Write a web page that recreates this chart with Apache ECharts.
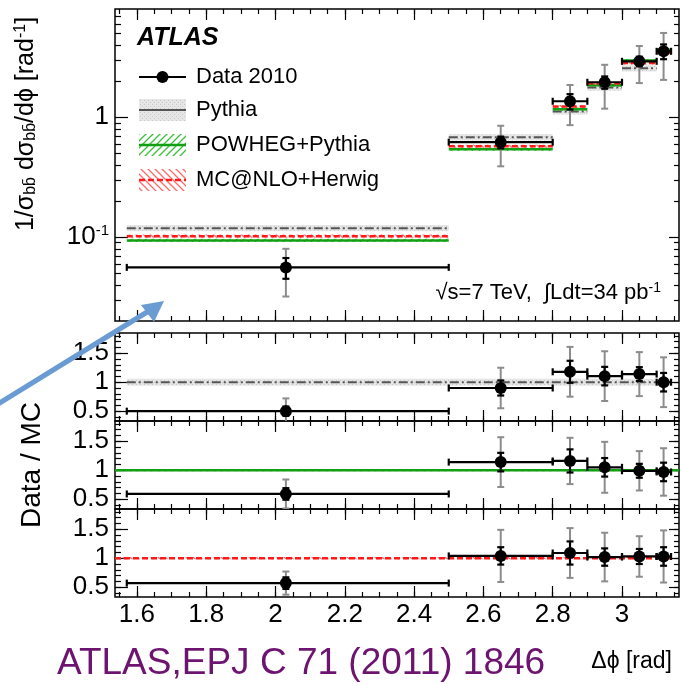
<!DOCTYPE html>
<html>
<head>
<meta charset="utf-8">
<script src="https://cdn.jsdelivr.net/npm/echarts@6/dist/echarts.min.js"></script>
<style>
  html, body { margin: 0; padding: 0; background: #fff; }
  #chart { width: 681px; height: 684px; }
</style>
</head>
<body>
<div id="chart"></div>
<script>
// ---- Δφ binning ----
const binLo     = [1.5708, 2.5, 2.8, 2.9, 3.0, 3.1];
const binHi     = [2.5, 2.8, 2.9, 3.0, 3.1, 3.1416];
const binCenter = [2.03, 2.65, 2.85, 2.95, 3.05, 3.12];

// ---- normalised cross section, data 2010 ----
const dataVal  = [0.056, 0.62, 1.36, 1.96, 2.93, 3.55];
const dataStat = [0.011, 0.07, 0.20, 0.23, 0.27, 0.50];
const dataTot  = [0.024, 0.23, 0.50, 0.78, 1.00, 1.50];

// ---- predictions ----
const pythiaVal = [0.119, 0.68, 1.12, 1.77, 2.56, 3.50];
const powhegVal = [0.094, 0.541, 1.166, 1.85, 2.98, 3.66];
const mcnloVal  = [0.102, 0.573, 1.23, 1.92, 2.84, 3.45];
const pythiaUnc = 0.06, powhegUnc = 0.03, mcnloUnc = 0.03;

// ---- Data / MC ratios ----
const ratioPythia     = [0.50, 0.90, 1.18, 1.105, 1.14, 1.00];
const ratioPythiaStat = [0.08, 0.13, 0.19, 0.16, 0.12, 0.16];
const ratioPythiaTot  = [0.22, 0.35, 0.43, 0.43, 0.38, 0.43];
const ratioPowheg     = [0.59, 1.14, 1.16, 1.05, 0.99, 0.97];
const ratioPowhegStat = [0.10, 0.16, 0.20, 0.16, 0.12, 0.16];
const ratioPowhegTot  = [0.25, 0.43, 0.40, 0.44, 0.34, 0.41];
const ratioMcnlo      = [0.57, 1.04, 1.09, 1.02, 1.03, 1.03];
const ratioMcnloStat  = [0.10, 0.15, 0.20, 0.15, 0.13, 0.16];
const ratioMcnloTot   = [0.20, 0.45, 0.43, 0.42, 0.35, 0.45];

// ---- axes ----
const X_MIN = 1.5368, X_MAX = 3.1645;
const xTickLabels = [1.6, 1.8, 2, 2.2, 2.4, 2.6, 2.8, 3];
const Y_LOG_MIN = 0.02, Y_LOG_MAX = 8;
const yLogLabels = [0.1, 1];
const R_MIN = 0.33, R_MAX = 1.85;
const ratioTickLabels = [0.5, 1, 1.5];

const xMinor = [];
for (let i = 31; i <= 63; i++) { const v = +(i * 0.05).toFixed(2); if (v > X_MIN && v < X_MAX) xMinor.push(v); }
const yLogMinor = [];
[0.01, 0.1, 1].forEach(d => { for (let k = 2; k <= 9; k++) { const v = +(k * d).toPrecision(2); if (v > Y_LOG_MIN && v < Y_LOG_MAX) yLogMinor.push(v); } });
const ratioMinor = [];
for (let i = 4; i <= 18; i++) ratioMinor.push(+(i * 0.1).toFixed(1));

const FONT = 'Liberation Sans, Arial, Helvetica, sans-serif';

// ---- fill patterns ----
function hatch(color, forward) {
  const c = document.createElement('canvas');
  c.width = c.height = 7;
  const g = c.getContext('2d');
  g.strokeStyle = color; g.lineWidth = 1.3;
  g.beginPath();
  if (forward) {
    g.moveTo(-1, 8); g.lineTo(8, -1);
    g.moveTo(-4, 4); g.lineTo(4, -4);
    g.moveTo(3, 11); g.lineTo(11, 3);
  } else {
    g.moveTo(-1, -1); g.lineTo(8, 8);
    g.moveTo(-4, 3); g.lineTo(4, 11);
    g.moveTo(3, -4); g.lineTo(11, 4);
  }
  g.stroke();
  return { image: c, repeat: 'repeat' };
}
function stipple() {
  const c = document.createElement('canvas');
  c.width = c.height = 4;
  const g = c.getContext('2d');
  g.fillStyle = '#e6e6e6'; g.fillRect(0, 0, 4, 4);
  g.fillStyle = '#c8c8c8'; g.fillRect(0, 0, 1, 1); g.fillRect(2, 2, 1, 1);
  return { image: c, repeat: 'repeat' };
}
const MC = {
  pythia: { line: '#555555', dash: [9, 3, 2, 3], legendDash: null, width: 2, fill: stipple() },
  powheg: { line: '#12a012', dash: null, legendDash: null, width: 2.5, fill: hatch('#3cbf3c', true) },
  mcnlo:  { line: '#ff1a1a', dash: [6, 3], legendDash: [6, 3], width: 2.5, fill: hatch('#ff6a6a', false) }
};

// ---- grids: main panel + three ratio panels ----
const grids = [
  { left: 115, right: 2, top: 9, height: 312 },
  { left: 115, right: 2, top: 333, height: 88 },
  { left: 115, right: 2, top: 421, height: 88 },
  { left: 115, right: 2, top: 509, height: 88 }
].map(g => Object.assign(g, { show: true, borderColor: '#000', borderWidth: 1.5, backgroundColor: 'transparent' }));

const tickLine = { color: '#000', width: 1.2 };

function xAxesFor(g, labelled) {
  const base = { type: 'value', gridIndex: g, min: X_MIN, max: X_MAX,
    splitLine: { show: false }, axisLine: { show: false, onZero: false }, axisLabel: { show: false } };
  const major = { show: true, inside: true, length: 11, customValues: xTickLabels, lineStyle: tickLine };
  const minor = { show: true, inside: true, length: 5, customValues: xMinor, lineStyle: tickLine };
  const lab = labelled ? { show: true, customValues: xTickLabels, margin: 5, fontSize: 26, color: '#000',
    fontFamily: FONT, formatter: v => String(+(+v).toFixed(1)) } : { show: false };
  return [
    Object.assign({}, base, { position: 'bottom', axisTick: major, axisLabel: lab }),
    Object.assign({}, base, { position: 'bottom', axisTick: minor }),
    Object.assign({}, base, { position: 'top', axisTick: major }),
    Object.assign({}, base, { position: 'top', axisTick: minor })
  ];
}
function yAxesFor(g, log) {
  const base = log
    ? { type: 'log', logBase: 10, gridIndex: g, min: Y_LOG_MIN, max: Y_LOG_MAX }
    : { type: 'value', gridIndex: g, min: R_MIN, max: R_MAX };
  Object.assign(base, { splitLine: { show: false }, axisLine: { show: false, onZero: false }, axisLabel: { show: false } });
  const majorVals = log ? yLogLabels : ratioTickLabels;
  const minorVals = log ? yLogMinor : ratioMinor;
  const major = { show: true, inside: true, length: 13, customValues: majorVals, lineStyle: tickLine };
  const minor = { show: true, inside: true, length: 6, customValues: minorVals, lineStyle: tickLine };
  const lab = { show: true, customValues: majorVals, margin: 6, fontSize: 26, color: '#000', fontFamily: FONT,
    formatter: log ? (v => (Math.abs(v - 1) < 1e-9 ? '1' : '10{sup|-1}')) : (v => String(+(+v).toFixed(1))),
    rich: { sup: { fontSize: 15, verticalAlign: 'top', fontFamily: FONT, color: '#000', padding: [0, 0, 12, 0] } } };
  return [
    Object.assign({}, base, { position: 'left', axisTick: major, axisLabel: lab }),
    Object.assign({}, base, { position: 'left', axisTick: minor }),
    Object.assign({}, base, { position: 'right', axisTick: Object.assign({}, major, { length: 10 }) }),
    Object.assign({}, base, { position: 'right', axisTick: Object.assign({}, minor, { length: 5 }) })
  ];
}

const xAxis = [].concat(xAxesFor(0, false), xAxesFor(1, false), xAxesFor(2, false), xAxesFor(3, true));
const yAxis = [].concat(yAxesFor(0, true), yAxesFor(1, false), yAxesFor(2, false), yAxesFor(3, false));

// ---- renderers ----
function renderBand(style) {
  return function (params, api) {
    const lo = api.value(0), hi = api.value(1), v = api.value(2), e = api.value(3);
    const a = api.coord([lo, v * (1 + e)]), b = api.coord([hi, v * (1 - e)]);
    const l = api.coord([lo, v]), r = api.coord([hi, v]);
    return { type: 'group', children: [
      { type: 'rect', shape: { x: a[0], y: a[1], width: b[0] - a[0], height: b[1] - a[1] },
        style: { fill: style.fill, stroke: null } },
      { type: 'line', shape: { x1: l[0], y1: l[1], x2: r[0], y2: r[1] },
        style: { stroke: style.line, lineWidth: style.width, lineDash: style.dash } }
    ] };
  };
}
function renderPoints(params, api) {
  const xc = api.value(0), y = api.value(1), xl = api.value(2), xh = api.value(3);
  const es = api.value(4), et = api.value(5);
  const c = api.coord([xc, y]);
  const l = api.coord([xl, y]), r = api.coord([xh, y]);
  const tT = api.coord([xc, y + et]), tB = api.coord([xc, y - et > 0 ? y - et : y * 1e-3]);
  const sT = api.coord([xc, y + es]), sB = api.coord([xc, y - es > 0 ? y - es : y * 1e-3]);
  const grey = { stroke: '#8c8c8c', lineWidth: 2 };
  const blk = { stroke: '#000', lineWidth: 2.2 };
  const seg = (x1, y1, x2, y2, s) => ({ type: 'line', shape: { x1, y1, x2, y2 }, style: s });
  return { type: 'group', children: [
    seg(tT[0], tT[1], tB[0], tB[1], grey),
    seg(tT[0] - 3.5, tT[1], tT[0] + 3.5, tT[1], grey),
    seg(tB[0] - 3.5, tB[1], tB[0] + 3.5, tB[1], grey),
    seg(l[0], l[1], r[0], r[1], blk),
    seg(l[0], l[1] - 3.5, l[0], l[1] + 3.5, blk),
    seg(r[0], r[1] - 3.5, r[0], r[1] + 3.5, blk),
    seg(sT[0], sT[1], sB[0], sB[1], blk),
    seg(sT[0] - 3.5, sT[1], sT[0] + 3.5, sT[1], blk),
    seg(sB[0] - 3.5, sB[1], sB[0] + 3.5, sB[1], blk),
    { type: 'circle', shape: { cx: c[0], cy: c[1], r: 6 }, style: { fill: '#000' } }
  ] };
}

function bandSeries(g, vals, unc, style, name) {
  return { type: 'custom', name, xAxisIndex: g * 4, yAxisIndex: g * 4, clip: true,
    renderItem: renderBand(style), encode: { x: [0, 1], y: 2 },
    data: vals.map((v, i) => [binLo[i], binHi[i], v, unc]), z: 2 };
}
function ratioBand(g, lo, hi, unc, style, name) {
  return { type: 'custom', name, xAxisIndex: g * 4, yAxisIndex: g * 4, clip: true,
    renderItem: renderBand(style), encode: { x: [0, 1], y: 2 },
    data: [[lo, hi, 1, unc]], z: 2 };
}
function pointSeries(g, vals, stat, tot, name) {
  return { type: 'custom', name, xAxisIndex: g * 4, yAxisIndex: g * 4, clip: true,
    renderItem: renderPoints, encode: { x: [0, 2, 3], y: 1 },
    data: vals.map((v, i) => [binCenter[i], v, binLo[i], binHi[i], stat[i], tot[i]]), z: 5 };
}

const series = [
  bandSeries(0, pythiaVal, pythiaUnc, MC.pythia, 'Pythia'),
  bandSeries(0, powhegVal, powhegUnc, MC.powheg, 'POWHEG+Pythia'),
  bandSeries(0, mcnloVal, mcnloUnc, MC.mcnlo, 'MC@NLO+Herwig'),
  pointSeries(0, dataVal, dataStat, dataTot, 'Data 2010'),
  ratioBand(1, binLo[0], binHi[5], 0.06, MC.pythia, 'Data/Pythia'),
  pointSeries(1, ratioPythia, ratioPythiaStat, ratioPythiaTot, 'Data/Pythia'),
  ratioBand(2, X_MIN, X_MAX, 0.02, MC.powheg, 'Data/POWHEG'),
  pointSeries(2, ratioPowheg, ratioPowhegStat, ratioPowhegTot, 'Data/POWHEG'),
  ratioBand(3, X_MIN, binHi[5], 0.02, MC.mcnlo, 'Data/MC@NLO'),
  pointSeries(3, ratioMcnlo, ratioMcnloStat, ratioMcnloTot, 'Data/MC@NLO')
];

// ---- legend, labels and annotations ----
const legendRows = [
  { label: 'Data 2010', y: 77, kind: 'data' },
  { label: 'Pythia', y: 110, kind: 'pythia' },
  { label: 'POWHEG+Pythia', y: 145, kind: 'powheg' },
  { label: 'MC@NLO+Herwig', y: 180, kind: 'mcnlo' }
];
const graphic = [];
legendRows.forEach(row => {
  const x0 = 139, x1 = 186;
  if (row.kind === 'data') {
    graphic.push({ type: 'line', shape: { x1: x0, y1: row.y, x2: x1, y2: row.y }, style: { stroke: '#000', lineWidth: 2.2 }, z: 10 });
    graphic.push({ type: 'circle', shape: { cx: (x0 + x1) / 2, cy: row.y, r: 6 }, style: { fill: '#000' }, z: 10 });
  } else {
    const s = MC[row.kind];
    graphic.push({ type: 'rect', shape: { x: x0, y: row.y - 11, width: x1 - x0, height: 22 }, style: { fill: s.fill }, z: 10 });
    graphic.push({ type: 'line', shape: { x1: x0, y1: row.y, x2: x1, y2: row.y },
      style: { stroke: s.line, lineWidth: s.width, lineDash: s.legendDash }, z: 10 });
  }
  graphic.push({ type: 'text', x: 196, y: row.y, z: 10,
    style: { text: row.label, fontSize: 22, fontFamily: FONT, fill: '#000', textVerticalAlign: 'middle' } });
});
graphic.push(
  { type: 'text', x: 137, y: 38, z: 10,
    style: { text: 'ATLAS', fontSize: 25, fontWeight: 'bold', fontStyle: 'italic', fontFamily: FONT, fill: '#000', textVerticalAlign: 'middle' } },
  { type: 'text', x: 661, y: 293, z: 10,
    style: { text: '√s=7 TeV,  ∫Ldt=34 pb{sup|-1}', fontSize: 22, fontFamily: FONT, fill: '#000',
      textAlign: 'right', textVerticalAlign: 'middle',
      rich: { sup: { fontSize: 14, fontFamily: FONT, verticalAlign: 'top', padding: [0, 0, 10, 0] } } } },
  { type: 'text', x: 26, y: 124, rotation: Math.PI / 2, z: 10,
    style: { text: '1/σ{sub|bb\u0304} dσ{sub|bb\u0304}/dϕ [rad{sup|-1}]', fontSize: 25, fontFamily: FONT, fill: '#000',
      textAlign: 'center', textVerticalAlign: 'middle',
      rich: { sub: { fontSize: 16, fontFamily: FONT, verticalAlign: 'bottom', padding: [10, 0, 0, 0] },
              sup: { fontSize: 16, fontFamily: FONT, verticalAlign: 'top', padding: [0, 0, 10, 0] } } } },
  { type: 'text', x: 32, y: 465, rotation: Math.PI / 2, z: 10,
    style: { text: 'Data / MC', fontSize: 28, fontFamily: FONT, fill: '#000', textAlign: 'center', textVerticalAlign: 'middle' } },
  { type: 'text', x: 672, y: 662, z: 10,
    style: { text: 'Δϕ [rad]', fontSize: 23, fontFamily: FONT, fill: '#000', textAlign: 'right', textVerticalAlign: 'middle' } },
  { type: 'text', x: 57, y: 664, z: 10,
    style: { text: 'ATLAS,EPJ C 71 (2011) 1846', fontSize: 37, fontFamily: FONT, fill: '#6c1470', textVerticalAlign: 'middle' } },
  // pointer arrow
  { type: 'line', shape: { x1: -2, y1: 404, x2: 152, y2: 309 }, style: { stroke: '#6a9bd2', lineWidth: 5, lineCap: 'butt' }, z: 20 },
  { type: 'polygon', shape: { points: [[164, 301], [141, 305], [154, 322]] }, style: { fill: '#6a9bd2' }, z: 20 }
);

const chart = echarts.init(document.getElementById('chart'), null, { renderer: 'canvas' });
chart.setOption({
  animation: false,
  backgroundColor: '#fff',
  grid: grids,
  xAxis, yAxis,
  series,
  graphic
});
</script>
</body>
</html>
